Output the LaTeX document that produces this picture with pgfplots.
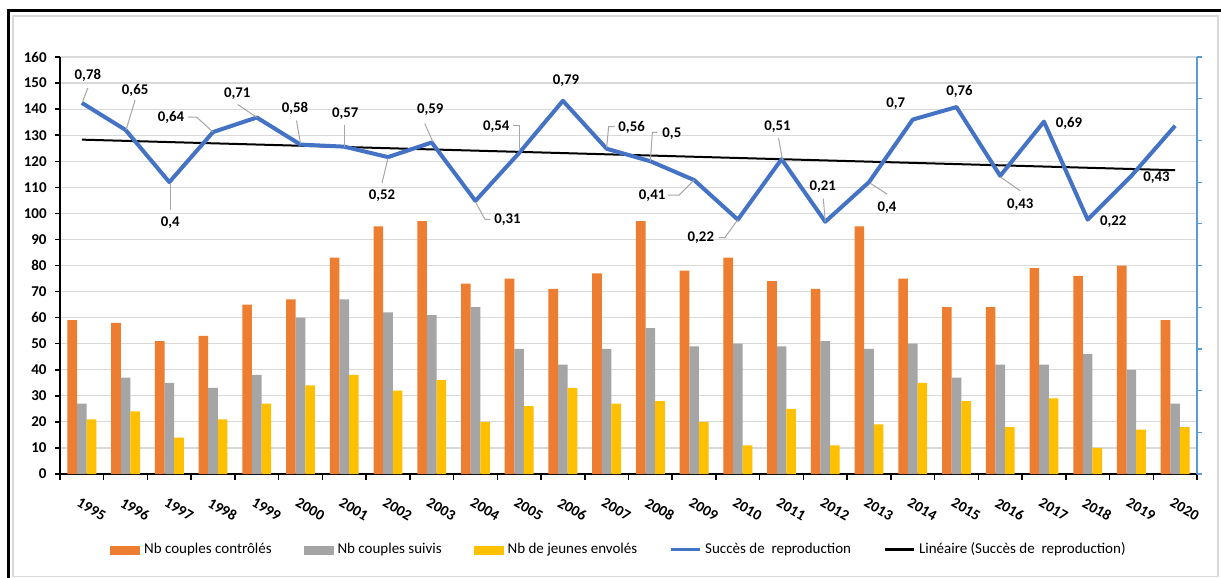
\documentclass[border=0pt]{standalone}
\usepackage{fontspec}
\setmainfont{Carlito}
\usepackage{pgfplots}
\usepackage{pgfplotstable}
\pgfplotsset{compat=1.18}

\definecolor{cOrange}{HTML}{ED7D31}
\definecolor{cGray}{HTML}{A5A5A5}
\definecolor{cGold}{HTML}{FFC000}
\definecolor{cBlue}{HTML}{4472C4}
\definecolor{cAxisBlue}{HTML}{5B9BD5}
\definecolor{cGrid}{HTML}{D9D9D9}
\definecolor{cLeader}{HTML}{A6A6A6}

% Couples and fledglings per year (x = 0 for 1995)
\pgfplotstableread{
x ctrl suivis jeunes
0  59 27 21
1  58 37 24
2  51 35 14
3  53 33 21
4  65 38 27
5  67 60 34
6  83 67 38
7  95 62 32
8  97 61 36
9  73 64 20
10 75 48 26
11 71 42 33
12 77 48 27
13 97 56 28
14 78 49 20
15 83 50 11
16 74 49 25
17 71 51 11
18 95 48 19
19 75 50 35
20 64 37 28
21 64 42 18
22 79 42 29
23 76 46 10
24 80 40 17
25 59 27 18
}\nichoirs

% Breeding success, with the offset (pt) of each value label
\pgfplotstableread{
x s dx dy
0  0.78 3 13.5
1  0.65 4.75 20
2  0.40 0.5 -20.5
3  0.64 -21 7.5
4  0.71 -9.75 12
5  0.58 -2.75 18
6  0.57 0.5 16.75
7  0.52 -3 -19.25
8  0.59 -0.75 16.25
9  0.31 16 -9.25
10 0.54 -11.5 13
11 0.79 1.5 10
12 0.56 12.5 10.75
13 0.50 10.75 13.75
14 0.41 -21 -8
15 0.22 -18.5 -9.25
16 0.51 -2 16.25
17 0.21 -1.25 17.5
18 0.40 9 -13
19 0.70 -8.5 7.75
20 0.76 1.5 7.75
21 0.43 10 -14.25
22 0.69 12.5 -0.75
23 0.22 12.75 -1
24 0.43 12.5 -0.75
25 0.67 0 0
}\succes

\begin{document}
\begin{tikzpicture}
\useasboundingbox (0pt,0pt) rectangle (610.5pt,-289pt);
\fill[white] (0pt,0pt) rectangle (610.5pt,-289pt);
\draw[cGrid, line width=0.75pt] (6.5pt,-8pt) rectangle (609pt,-288.3pt);
\draw[black, line width=1.5pt] (4.3pt,-289pt) -- (4.3pt,-5pt) -- (610.5pt,-5pt);

\begin{axis}[
  at={(30pt,-237pt)}, anchor=south west,
  scale only axis, width=568.5pt, height=208.5pt,
  xmin=-0.5, xmax=25.5, ymin=0, ymax=160,
  axis x line*=bottom, axis y line*=left,
  axis line style={black, line width=1pt},
  xtick={0,...,25},
  xticklabels={1995,1996,1997,1998,1999,2000,2001,2002,2003,2004,2005,2006,2007,2008,2009,2010,2011,2012,2013,2014,2015,2016,2017,2018,2019,2020},
  minor xtick={-0.5,0.5,...,25.5},
  major x tick style={draw=none},
  ytick={0,10,...,160},
  tick align=outside,
  major tick length=2.5pt, minor tick length=3pt,
  tick style={black, line width=0.75pt},
  ymajorgrids, grid style={cGrid, line width=0.6pt},
  /pgf/number format/assume math mode=true,
  tick label style={font=\fontsize{7.5}{8}\selectfont\bfseries},
  xticklabel style={rotate=-30, anchor=north west, inner sep=0pt, xshift=3.9pt, yshift=-8pt},
  yticklabel style={inner sep=0pt, xshift=-4pt},
  ybar=0pt, bar width=0.22,
]
\addplot[fill=cOrange, draw=none] table[x=x, y=ctrl] {\nichoirs};
\addplot[fill=cGray, draw=none] table[x=x, y=suivis] {\nichoirs};
\addplot[fill=cGold, draw=none] table[x=x, y=jeunes] {\nichoirs};
\end{axis}

\begin{axis}[
  at={(30pt,-237pt)}, anchor=south west,
  scale only axis, width=568.5pt, height=208.5pt,
  xmin=-0.5, xmax=25.5, ymin=-1, ymax=1,
  axis x line=none, axis y line*=right,
  y axis line style={cAxisBlue, line width=0.6pt},
  ytick={-1,-0.8,-0.6,-0.4,-0.2,0,0.2,0.4,0.6,0.8,1},
  yticklabels={},
  tick align=outside, major tick length=2.5pt,
  ytick style={cAxisBlue, line width=0.6pt},
  clip=false,
  legend columns=5,
  legend cell align=left,
  legend style={at={(0.4925,-0.182)}, anchor=center, draw=none, fill=none,
    font=\fontsize{7.5}{9}\selectfont,
    /tikz/every odd column/.append style={column sep=0pt},
    /tikz/every even column/.append style={column sep=14pt}},
]
\addlegendimage{legend image code/.code={\fill[cOrange] (0pt,-2pt) rectangle (14.5pt,2pt);}}
\addlegendentry{Nb couples contrôlés}
\addlegendimage{legend image code/.code={\fill[cGray] (0pt,-2pt) rectangle (14.5pt,2pt);}}
\addlegendentry{Nb couples suivis}
\addlegendimage{legend image code/.code={\fill[cGold] (0pt,-2pt) rectangle (14.5pt,2pt);}}
\addlegendentry{Nb de jeunes envolés}

% trend of the breeding success
\addplot[black, line width=1pt, forget plot]
  table[x=x, y={create col/linear regression={y=s}}] {\succes};

\addplot[cBlue, line width=2pt, line join=round,
  legend image code/.code={\draw[line width=1.5pt] (0pt,0pt) -- (14.5pt,0pt);}]
  table[x=x, y=s] {\succes};
\addlegendentry{Succès de\ \ reproduction}

\addlegendimage{black, legend image code/.code={\draw[line width=1.5pt] (0pt,0pt) -- (14.5pt,0pt);}}
\addlegendentry{Linéaire (Succès de\ \ reproduction)}

% leader lines from the points to their value labels
\begin{scope}[cLeader, line width=0.5pt]
\draw[shift={(axis cs:0,0.78)}] (0.5pt,1pt) -- (3pt,7.5pt);
\draw[shift={(axis cs:1,0.65)}] (0.25pt,0pt) -- (4.75pt,15pt);
\draw[shift={(axis cs:2,0.40)}] (0.5pt,-0.5pt) -- (0.5pt,-14pt);
\draw[shift={(axis cs:3,0.64)}] (0pt,0pt) -- (-8.25pt,7.5pt) -- (-12.5pt,7.5pt);
\draw[shift={(axis cs:4,0.71)}] (0pt,0pt) -- (-9.5pt,6.5pt);
\draw[shift={(axis cs:5,0.58)}] (0pt,0.5pt) -- (-2pt,12pt);
\draw[shift={(axis cs:6,0.57)}] (0pt,0pt) -- (0pt,11pt);
\draw[shift={(axis cs:7,0.52)}] (0pt,-0.5pt) -- (-3pt,-13pt);
\draw[shift={(axis cs:8,0.59)}] (0.5pt,0.5pt) -- (-3.5pt,9.5pt);
\draw[shift={(axis cs:9,0.31)}] (0pt,-0.5pt) -- (4.75pt,-9.25pt) -- (7.5pt,-9.25pt);
\draw[shift={(axis cs:10,0.54)}] (0pt,1pt) -- (0pt,13.5pt) -- (-3pt,13.5pt);
\draw[shift={(axis cs:12,0.56)}] (0pt,0.5pt) -- (1pt,11pt) -- (4pt,11pt);
\draw[shift={(axis cs:13,0.50)}] (0pt,0pt) -- (1pt,14.5pt) -- (3.5pt,14.5pt);
\draw[shift={(axis cs:14,0.41)}] (0pt,0pt) -- (-7.5pt,-7.5pt) -- (-13pt,-7.5pt);
\draw[shift={(axis cs:15,0.22)}] (0pt,0pt) -- (-6.5pt,-9pt) -- (-9.5pt,-9pt);
\draw[shift={(axis cs:16,0.51)}] (0.5pt,-0.5pt) -- (-1.5pt,10.5pt);
\draw[shift={(axis cs:17,0.21)}] (0pt,0pt) -- (-1pt,11.5pt);
\draw[shift={(axis cs:18,0.40)}] (0.5pt,-0.5pt) -- (9pt,-6pt);
\draw[shift={(axis cs:21,0.43)}] (0pt,-0.5pt) -- (10pt,-7.5pt);
\end{scope}

% value labels of the breeding success
\addplot[draw=none, forget plot, restrict x to domain=0:24,
  nodes near coords={\pgfmathprintnumber[use comma,fixed,precision=2,assume math mode=true]{\pgfplotspointmeta}},
  visualization depends on={\thisrow{dx} \as \ldx},
  visualization depends on={\thisrow{dy} \as \ldy},
  every node near coord/.append style={anchor=center, inner sep=0pt, text=black,
    xshift=\ldx pt, yshift=\ldy pt, font=\fontsize{7.4}{8}\selectfont\bfseries}]
  table[x=x, y=s] {\succes};
\end{axis}
\end{tikzpicture}
\end{document}
